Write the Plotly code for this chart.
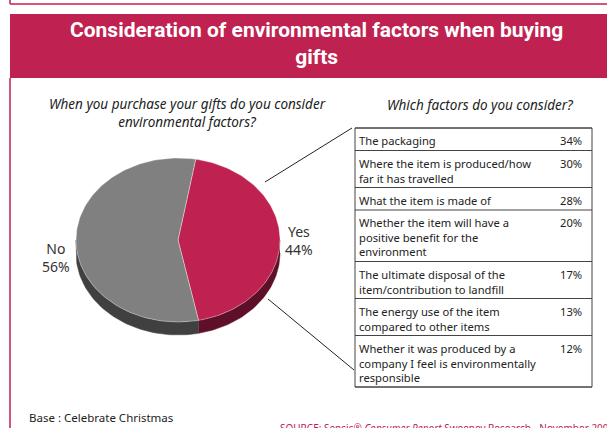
import numpy as np
import plotly.graph_objects as go

# pie data
pie_labels = ["Yes", "No"]
pie_values = [44, 56]

# factors table
factor_labels = [
    "The packaging",
    "Where the item is produced/how<br>far it has travelled",
    "What the item is made of",
    "Whether the item will have a<br>positive benefit for the<br>environment",
    "The ultimate disposal of the<br>item/contribution to landfill",
    "The energy use of the item<br>compared to other items",
    "Whether it was produced by a<br>company I feel is environmentally<br>responsible",
]
factor_values = [34, 30, 28, 20, 17, 13, 12]

RED = "#BF2150"
RED_DARK = "#5E1028"
GREY = "#808080"
GREY_DARK = "#404040"
TXT = "#222222"
FONT = "Noto Sans"

W, H = 607, 428
fig = go.Figure()

# --- 3D-ish elliptical pie, geometry computed from the values ---
cx, cy, rx, ry, depth = 178, 240, 102, 82, 13
start = 10.0  # degrees clockwise from top
tops = []
a0 = start
for lab, v in zip(pie_labels, pie_values):
    a1 = a0 + 360 * v / sum(pie_values)
    tops.append((lab, a0, a1))
    a0 = a1

def pt(a, dy=0):
    r = np.radians(a)
    return cx + rx * np.sin(r), cy - ry * np.cos(r) + dy

top_col = {"Yes": RED, "No": GREY}
side_col = {"Yes": RED_DARK, "No": GREY_DARK}

# side walls (visible front half: 90..270 deg)
for lab, a0, a1 in tops:
    for lo, hi in [(a0, a1), (a0 - 360, a1 - 360)]:
        s, e = max(lo, 90), min(hi, 270)
        if e <= s:
            continue
        ang = np.linspace(s, e, 60)
        xs_t, ys_t = pt(ang)
        xs_b, ys_b = pt(ang[::-1], depth)
        fig.add_trace(go.Scatter(
            x=np.concatenate([xs_t, xs_b]), y=np.concatenate([ys_t, ys_b]),
            fill="toself", fillcolor=side_col[lab], mode="lines",
            line=dict(color=side_col[lab], width=0.5),
            hoverinfo="skip", showlegend=False))

# top faces
for lab, a0, a1 in tops:
    ang = np.linspace(a0, a1, 120)
    xs, ys = pt(ang)
    fig.add_trace(go.Scatter(
        x=np.concatenate([[cx], xs, [cx]]), y=np.concatenate([[cy], ys, [cy]]),
        fill="toself", fillcolor=top_col[lab], mode="lines",
        line=dict(color="rgba(255,255,255,0.6)", width=0.6),
        hoverinfo="skip", showlegend=False, name=lab))

# pie labels
fig.add_annotation(x=299, y=240, text="%s<br>%d%%" % (pie_labels[0], pie_values[0]),
                   showarrow=False, font=dict(family=FONT, size=14, color="#333"),
                   xref="x", yref="y")
fig.add_annotation(x=56, y=257, text="%s<br>%d%%" % (pie_labels[1], pie_values[1]),
                   showarrow=False, font=dict(family=FONT, size=14, color="#333"),
                   xref="x", yref="y")

# --- table ---
tx0, tx1, ty = 355, 592, 128
line_h, base_h = 14.5, 22.5
shapes = []
y = ty
row_lines = [y]
for lab, v in zip(factor_labels, factor_values):
    n = lab.count("<br>") + 1
    fig.add_annotation(x=tx0 + 2, y=y + 3, text=lab, xanchor="left", yanchor="top",
                       align="left", showarrow=False,
                       font=dict(family=FONT, size=11.2, color=TXT), xref="x", yref="y")
    fig.add_annotation(x=tx1 - 8, y=y + 3, text="%d%%" % v, xanchor="right", yanchor="top",
                       showarrow=False, font=dict(family=FONT, size=11.2, color=TXT),
                       xref="x", yref="y")
    y += base_h + line_h * (n - 1)
    row_lines.append(y)
for yy in row_lines:
    shapes.append(dict(type="line", x0=tx0, x1=tx1, y0=yy, y1=yy, xref="x", yref="y",
                       line=dict(color="#444", width=1)))
shapes.append(dict(type="rect", x0=tx0, x1=tx1, y0=ty, y1=row_lines[-1], xref="x", yref="y",
                   line=dict(color="#444", width=1)))

# connector lines
shapes.append(dict(type="line", x0=265, y0=182, x1=352, y1=128, xref="x", yref="y",
                   line=dict(color="#222", width=1)))
shapes.append(dict(type="line", x0=268, y0=299, x1=354, y1=370, xref="x", yref="y",
                   line=dict(color="#222", width=1)))

# frame: top thin line, left line, title banner
shapes.append(dict(type="line", x0=10, x1=W, y0=4, y1=4, xref="x", yref="y",
                   line=dict(color=RED, width=1.5)))
shapes.append(dict(type="line", x0=10, x1=10, y0=0, y1=4, xref="x", yref="y",
                   line=dict(color=RED, width=1.5)))
shapes.append(dict(type="line", x0=10, x1=10, y0=78, y1=H, xref="x", yref="y",
                   line=dict(color=RED, width=1.5)))
shapes.append(dict(type="rect", x0=10, x1=W + 2, y0=14, y1=78, xref="x", yref="y",
                   fillcolor=RED, line=dict(width=0), layer="below"))

fig.add_annotation(x=316, y=43, text="Consideration of environmental factors when buying<br>gifts",
                   showarrow=False, xref="x", yref="y",
                   font=dict(family="Liberation Sans Narrow, Roboto", size=21, color="white",
                             weight="bold"))

# subtitles
fig.add_annotation(x=187, y=113, text="<i>When you purchase your gifts do you consider<br>environmental factors?</i>",
                   showarrow=False, xref="x", yref="y",
                   font=dict(family=FONT, size=13.5, color=TXT))
fig.add_annotation(x=480, y=105, text="<i>Which factors do you consider?</i>",
                   showarrow=False, xref="x", yref="y",
                   font=dict(family=FONT, size=13.5, color=TXT))

# footer
fig.add_annotation(x=27, y=417, text="Base : Celebrate Christmas", xanchor="left",
                   showarrow=False, xref="x", yref="y",
                   font=dict(family=FONT, size=11.5, color=TXT))
fig.add_annotation(x=278, y=428, text="SOURCE: Sensis\u00ae <i>Consumer Report</i> Sweeney Research - November 2007",
                   xanchor="left", yanchor="middle", showarrow=False, xref="x", yref="y",
                   font=dict(family=FONT, size=10, color=RED))

fig.update_layout(
    width=W, height=H, margin=dict(l=0, r=0, t=0, b=0),
    paper_bgcolor="white", plot_bgcolor="white",
    xaxis=dict(range=[0, W], visible=False, fixedrange=True),
    yaxis=dict(range=[H, 0], visible=False, fixedrange=True),
    shapes=shapes, showlegend=False,
)

fig.write_html("out.html", config={"displayModeBar": False},
               post_script="document.body.style.margin='0';")
